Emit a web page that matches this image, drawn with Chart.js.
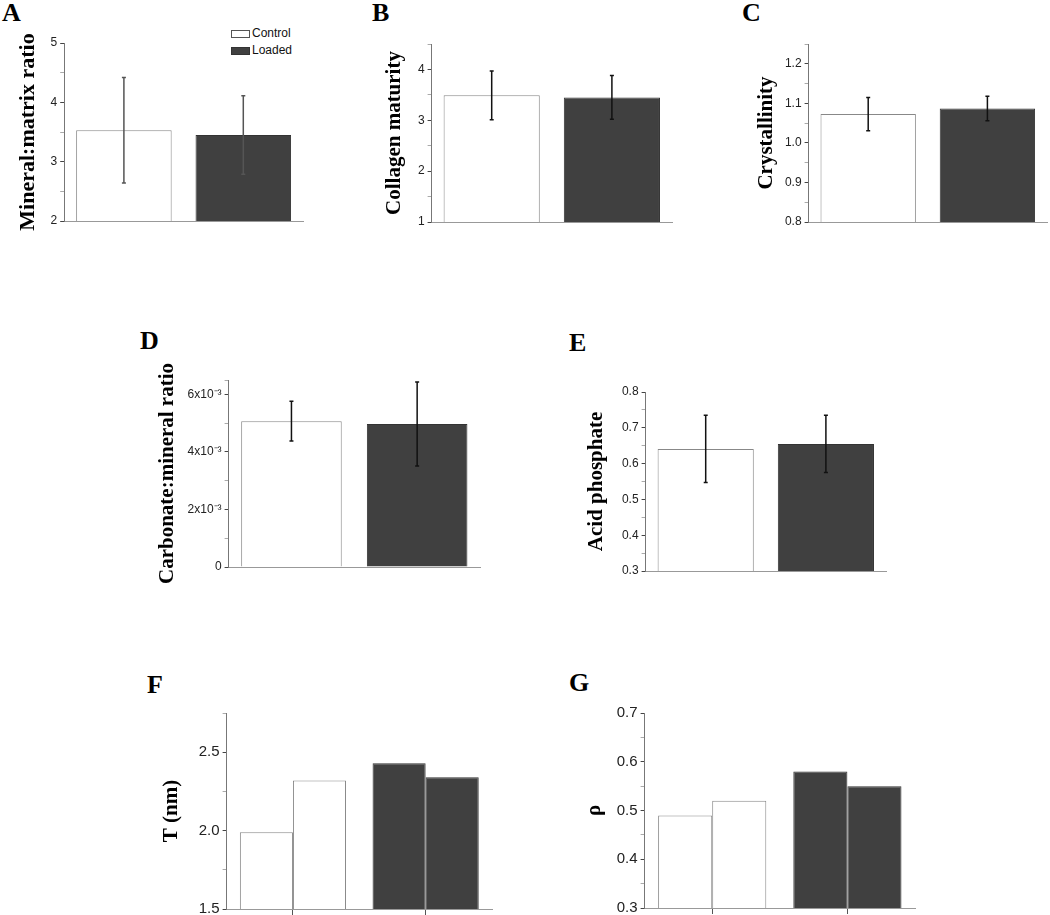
<!DOCTYPE html>
<html>
<head>
<meta charset="utf-8">
<script src="https://cdn.jsdelivr.net/npm/chart.js@4"></script>
<style>
  body { margin: 0; width: 1050px; height: 915px; overflow: hidden; background: #fff; position: relative; }
  canvas { position: absolute; }
  .letter { position: absolute; font: bold 26px 'Liberation Serif', 'Times New Roman', serif; line-height: 26px; color: #000; }
  .lg-box { position: absolute; width: 17px; height: 6px; border: 1px solid #555; }
  .lg-text { position: absolute; font: 12px 'Liberation Sans', Arial, sans-serif; line-height: 14px; color: #111; }
</style>
</head>
<body>
<div class="letter" style="left:2px;top:0px">A</div>
<div class="letter" style="left:372px;top:0px">B</div>
<div class="letter" style="left:742px;top:0px">C</div>
<div class="letter" style="left:140px;top:328px">D</div>
<div class="letter" style="left:569px;top:330px">E</div>
<div class="letter" style="left:147px;top:672px">F</div>
<div class="letter" style="left:569px;top:670px">G</div>

<div class="lg-box" style="left:231px;top:30px;background:#fff"></div>
<div class="lg-text" style="left:252px;top:26px">Control</div>
<div class="lg-box" style="left:231px;top:47px;background:#404040;border-color:#333"></div>
<div class="lg-text" style="left:252px;top:43px">Loaded</div>

<script>
// Data
const groups = ['Control', 'Loaded'];
const mineralMatrix = [3.53, 3.45];
const mineralMatrixErr = [0.89, 0.66];
const collagenMaturity = [3.49, 3.45];
const collagenMaturityErr = [0.48, 0.43];
const crystallinity = [1.073, 1.087];
const crystallinityErr = [0.042, 0.031];
const carbonateMineral = [5.07e-3, 4.97e-3];
const carbonateMineralErr = [0.69e-3, 1.46e-3];
const acidPhosphate = [0.641, 0.655];
const acidPhosphateErr = [0.094, 0.08];
const thicknessA = [1.99, 2.43];
const thicknessB = [2.32, 2.34];
const rhoA = [0.49, 0.58];
const rhoB = [0.52, 0.55];

const carbonateTicks = { 0: '0', 2: '2x10\u207B\u00B3', 4: '4x10\u207B\u00B3', 6: '6x10\u207B\u00B3' };

const FILL = ['#ffffff', '#404040'];
const EDGE = ['#888888', '#333333'];

// error bars drawn through the y scale
const errorBars = {
  id: 'errorBars',
  afterDatasetsDraw(chart, args, opts) {
    if (!opts.errors) return;
    const ctx = chart.ctx;
    const y = chart.scales.y;
    const meta = chart.getDatasetMeta(0);
    const vals = chart.data.datasets[0].data;
    ctx.save();
    ctx.strokeStyle = opts.color || '#111';
    ctx.lineWidth = 1.5;
    meta.data.forEach((bar, i) => {
      const hi = y.getPixelForValue(vals[i] + opts.errors[i]);
      const lo = y.getPixelForValue(vals[i] - opts.errors[i]);
      ctx.beginPath();
      ctx.moveTo(bar.x, hi);
      ctx.lineTo(bar.x, lo);
      ctx.moveTo(bar.x - 2, hi);
      ctx.lineTo(bar.x + 2, hi);
      ctx.moveTo(bar.x - 2, lo);
      ctx.lineTo(bar.x + 2, lo);
      ctx.stroke();
    });
    ctx.restore();
  },
};

function makePanel(p) {
  const titleSize = p.titleSize || 21;
  const left = p.titleX - titleSize * 0.6;
  const yWidth = p.axisX - left;
  const padTop = p.padTop || 12;
  const xHeight = p.xHeight || 12;
  const padBottom = p.padBottom || 0;
  const canvas = document.createElement('canvas');
  canvas.width = Math.round(p.xEnd - left + 3);
  canvas.height = Math.round(p.bottom - p.top + padTop + xHeight + padBottom);
  canvas.style.left = left + 'px';
  canvas.style.top = (p.top - padTop) + 'px';
  document.body.appendChild(canvas);

  new Chart(canvas.getContext('2d'), {
    type: 'bar',
    data: { labels: groups, datasets: p.datasets },
    options: {
      responsive: false,
      animation: false,
      devicePixelRatio: 1,
      layout: { padding: { top: padTop, right: 3, bottom: padBottom, left: 0 } },
      plugins: {
        legend: { display: false },
        tooltip: { enabled: false },
        errorBars: { errors: p.errors, color: p.errColor },
      },
      scales: {
        x: {
          grid: {
            drawOnChartArea: false,
            drawTicks: !!p.xTicks,
            tickLength: 6,
            offset: false,
            tickColor: '#555',
          },
          border: { color: '#999', width: 1 },
          ticks: { display: false },
          afterFit: (s) => { s.height = xHeight; },
        },
        y: {
          min: p.min,
          max: p.max,
          grid: {
            drawOnChartArea: false,
            tickLength: 4,
            tickColor: (c) => (c.tick && c.tick.label !== '' ? '#444' : '#aaa'),
          },
          border: { color: '#777', width: 1 },
          ticks: {
            stepSize: p.step,
            autoSkip: false,
            padding: 3,
            color: '#222',
            font: { family: "'Liberation Sans', Arial, sans-serif", size: p.tickSize || 12 },
            callback: p.label,
          },
          title: {
            display: true,
            text: p.title,
            color: '#000',
            padding: 0,
            font: { family: "'Liberation Serif', 'Times New Roman', serif", size: titleSize, weight: 'bold' },
          },
          afterFit: (s) => { s.width = yWidth; },
        },
      },
    },
    plugins: [errorBars],
  });
}

function single(values) {
  return [{
    data: values,
    backgroundColor: FILL,
    borderColor: EDGE,
    borderWidth: 1,
    barPercentage: 0.8,
    categoryPercentage: 1,
  }];
}

function paired(first, second) {
  return [first, second].map((vals) => ({
    data: vals,
    backgroundColor: FILL,
    borderColor: EDGE,
    borderWidth: 1,
    barPercentage: 1,
    categoryPercentage: 0.8,
  }));
}

const oneDecimal = (v) => (Math.round(v * 100) % 10 === 0 ? v.toFixed(1) : '');
const whole = (v) => (Math.abs(v - Math.round(v)) < 1e-9 ? String(Math.round(v)) : '');

makePanel({
  title: 'Mineral:matrix ratio', titleX: 28, axisX: 64, xEnd: 303, top: 43, bottom: 221,
  min: 2, max: 5, step: 0.5, label: whole, titleSize: 22, padTop: 20, padBottom: 8,
  datasets: single(mineralMatrix), errors: mineralMatrixErr, errColor: '#555',
});
makePanel({
  title: 'Collagen maturity', titleX: 395, axisX: 432, xEnd: 672, top: 44, bottom: 222,
  min: 1, max: 4.5, step: 0.5, label: whole,
  datasets: single(collagenMaturity), errors: collagenMaturityErr,
});
makePanel({
  title: 'Crystallinity', titleX: 767, axisX: 809, xEnd: 1047, top: 44, bottom: 222,
  min: 0.8, max: 1.25, step: 0.05, label: oneDecimal,
  datasets: single(crystallinity), errors: crystallinityErr,
});
makePanel({
  title: 'Carbonate:mineral ratio', titleX: 168, axisX: 229, xEnd: 480, top: 380, bottom: 567,
  min: 0, max: 6.5e-3, step: 1e-3, padTop: 26, padBottom: 16,
  label: (v) => carbonateTicks[Math.round(v * 1000)] || '',
  datasets: single(carbonateMineral), errors: carbonateMineralErr,
});
makePanel({
  title: 'Acid phosphate', titleX: 597, axisX: 646, xEnd: 886, top: 392, bottom: 571,
  min: 0.3, max: 0.8, step: 0.05, label: oneDecimal,
  datasets: single(acidPhosphate), errors: acidPhosphateErr,
});
makePanel({
  title: 'T (nm)', titleX: 172, axisX: 227, xEnd: 492, top: 713, bottom: 909,
  min: 1.5, max: 2.75, step: 0.25, label: (v) => (Math.round(v * 100) % 50 === 0 ? v.toFixed(1) : ''),
  tickSize: 15, xTicks: true, xHeight: 8, padBottom: 4,
  datasets: paired(thicknessA, thicknessB),
});
makePanel({
  title: '\u03C1', titleX: 595, axisX: 645, xEnd: 915, top: 713, bottom: 908,
  min: 0.3, max: 0.7, step: 0.05, label: oneDecimal,
  tickSize: 15, xTicks: true, xHeight: 8, padBottom: 4,
  datasets: paired(rhoA, rhoB),
});
</script>
</body>
</html>
